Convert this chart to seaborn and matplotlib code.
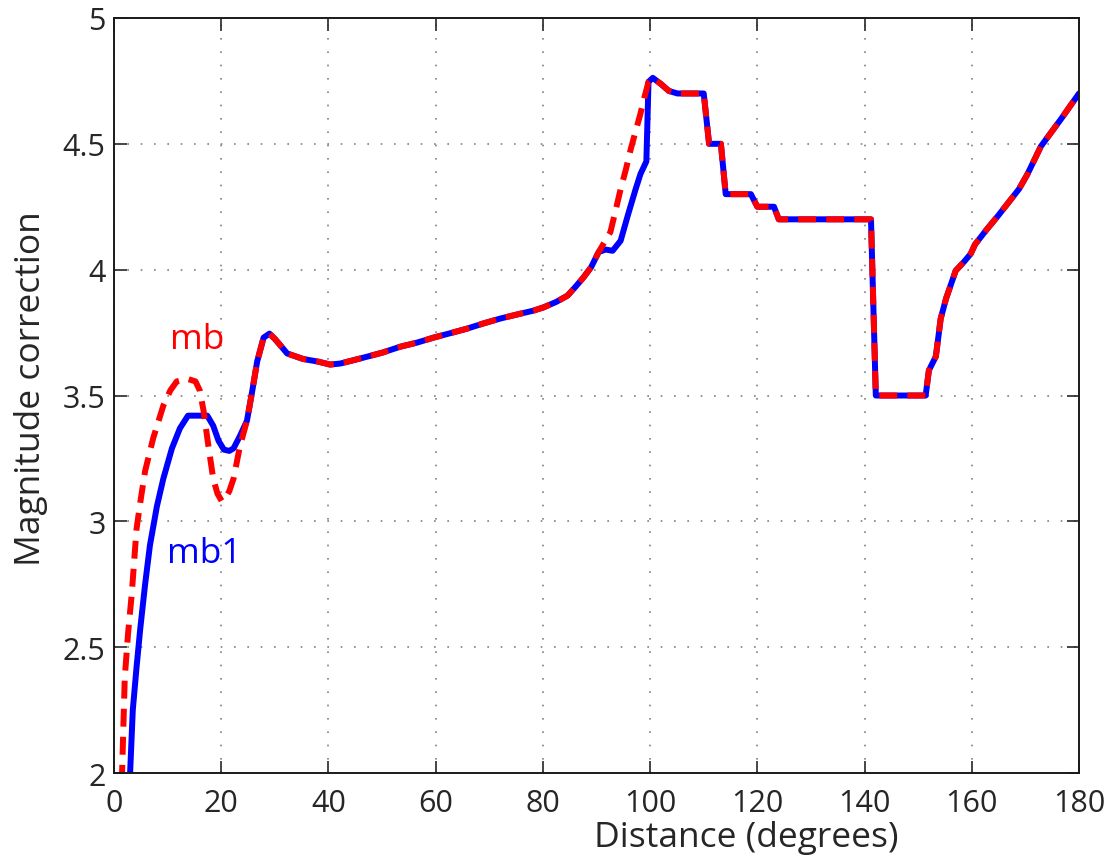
import numpy as np
import pandas as pd
import seaborn as sns
import matplotlib
matplotlib.use("Agg")
import matplotlib.pyplot as plt

# ---- data ----
mb1_head_dist = [2.7, 3.0, 3.5, 4.2, 4.9, 5.8, 6.7, 8.0, 9.2, 10.8, 12.3, 13.8, 15.5, 17.4,
                 18.5, 19.5, 20.5, 21.5, 22.3, 23.5, 24.8]
mb1_head_val = [1.85, 2.0, 2.25, 2.42, 2.575, 2.75, 2.905, 3.06, 3.17, 3.29, 3.37, 3.42, 3.42, 3.42,
                3.38, 3.32, 3.285, 3.28, 3.29, 3.34, 3.40]

mb_head_dist = [1.3, 1.5, 2.0, 2.6, 3.3, 4.2, 5.0, 5.8, 7.3, 9.2, 10.5, 11.7, 13.6, 15.2, 16.0,
                16.7, 17.6, 18.5, 19.3, 20.1, 20.7, 21.5, 22.3, 23.5, 24.8]
mb_head_val = [1.85, 2.0, 2.377, 2.55, 2.71, 2.97, 3.09, 3.20, 3.33, 3.46, 3.52, 3.556, 3.567, 3.556, 3.52,
               3.44, 3.30, 3.17, 3.11, 3.08, 3.09, 3.12, 3.17, 3.30, 3.40]

shared_mid_dist = [25.8, 26.7, 27.9, 29.0, 30.0, 31.0, 32.3, 35.3, 38.0, 40.3, 42.2, 45.9, 50.0, 53.4,
                   56.5, 59.6, 62.8, 65.9, 69.0, 72.1, 75.2, 78.2, 80.1, 82.5, 84.6, 86.0, 87.6, 89.0, 90.4]
shared_mid_val = [3.52, 3.635, 3.73, 3.746, 3.725, 3.70, 3.667, 3.645, 3.635, 3.623, 3.627, 3.647, 3.67, 3.694,
                  3.71, 3.73, 3.748, 3.766, 3.787, 3.806, 3.822, 3.837, 3.850, 3.872, 3.897, 3.93, 3.97, 4.01, 4.07]

mb1_peak_dist = [91.7, 93.0, 94.5, 95.9, 97.3, 98.2, 99.3, 99.7]
mb1_peak_val = [4.08, 4.075, 4.115, 4.22, 4.32, 4.38, 4.43, 4.746]

mb_peak_dist = [91.5, 92.6, 93.5, 94.5, 95.5, 96.4, 97.3, 98.2, 99.0, 99.7]
mb_peak_val = [4.11, 4.15, 4.23, 4.32, 4.40, 4.48, 4.55, 4.62, 4.69, 4.746]

shared_tail_dist = [100.5, 102.0, 103.5, 105.1, 110.0, 111.0, 113.2, 114.1, 118.8, 120.0, 123.1, 124.0,
                    141.2, 142.1, 151.4, 152.0, 153.3, 154.2, 155.2, 157.0, 158.5, 159.8, 160.6, 162.8,
                    164.9, 168.8, 170.4, 172.9, 176.7, 180.0]
shared_tail_val = [4.762, 4.738, 4.71, 4.70, 4.70, 4.50, 4.50, 4.30, 4.30, 4.25, 4.25, 4.20,
                   4.20, 3.50, 3.50, 3.60, 3.655, 3.805, 3.885, 3.996, 4.03, 4.063, 4.10, 4.16,
                   4.214, 4.32, 4.38, 4.49, 4.60, 4.70]

x_ticks = [0, 20, 40, 60, 80, 100, 120, 140, 160, 180]
y_ticks = [2, 2.5, 3, 3.5, 4, 4.5, 5]
y_ticklabels = ["2", "2.5", "3", "3.5", "4", "4.5", "5"]

mb1 = pd.DataFrame({
    "dist": mb1_head_dist + shared_mid_dist + mb1_peak_dist + shared_tail_dist,
    "val": mb1_head_val + shared_mid_val + mb1_peak_val + shared_tail_val,
})
mb = pd.DataFrame({
    "dist": mb_head_dist + shared_mid_dist + mb_peak_dist + shared_tail_dist,
    "val": mb_head_val + shared_mid_val + mb_peak_val + shared_tail_val,
})

sns.set_theme(style="white")
plt.rcParams["font.family"] = ["Open Sans", "DejaVu Sans"]
text_color = "#262626"

fig = plt.figure(figsize=(11.07, 8.62), dpi=100)
ax = fig.add_axes([0.103, 0.102, 0.8717, 0.876])

sns.lineplot(data=mb1, x="dist", y="val", sort=False, estimator=None, ax=ax,
             color="#0000ff", linewidth=4.3)
sns.lineplot(data=mb, x="dist", y="val", sort=False, estimator=None, ax=ax,
             color="#ff0000", linewidth=4.3)
red_line = ax.lines[-1]
red_line.set_dashes([3.0, 1.7])
red_line.set_dash_capstyle("butt")
for ln in ax.lines:
    ln.set_solid_joinstyle("round")
    ln.set_dash_joinstyle("round")

ax.set_xlim(0, 180)
ax.set_ylim(2, 5)
ax.set_xticks(x_ticks)
ax.set_yticks(y_ticks)
ax.set_yticklabels(y_ticklabels)
ax.grid(True, color="#7f7f7f", linestyle=(0, (1, 7)), linewidth=1.2)
ax.tick_params(direction="in", length=9, width=1.2, top=True, right=True,
               labelsize=22, colors=text_color, labelcolor=text_color,
               bottom=True, left=True)
ax.tick_params(axis="x", pad=11)
ax.tick_params(axis="y", pad=6)
for s in ax.spines.values():
    s.set_color("#1a1a1a")
    s.set_linewidth(1.4)

ax.set_xlabel("Distance (degrees)", fontsize=25.5, color=text_color)
ax.xaxis.set_label_coords(0.655, -0.062)
ax.set_ylabel("Magnitude correction", fontsize=25.5, color=text_color)
ax.yaxis.set_label_coords(-0.068, 0.51)

ax.text(15.5, 3.725, "mb", color="#ff0000", fontsize=25.5, ha="center", va="center")
ax.text(16.8, 2.875, "mb1", color="#0000ff", fontsize=25.5, ha="center", va="center")

fig.savefig("out.png", dpi=100, facecolor="white")
